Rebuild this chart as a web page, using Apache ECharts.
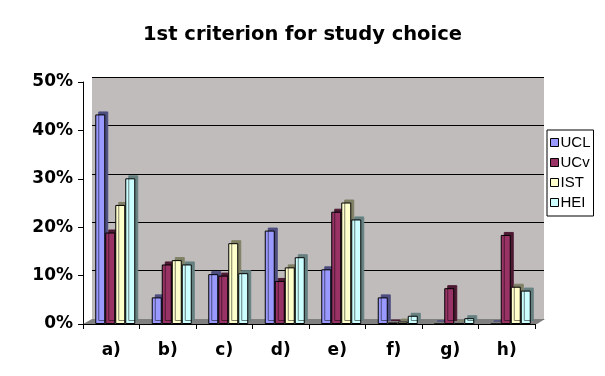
<!DOCTYPE html>
<html><head><meta charset="utf-8">
<script src="https://cdn.jsdelivr.net/npm/echarts@6/dist/echarts.min.js"></script>
<style>html,body{margin:0;padding:0;background:#fff}#c{width:605px;height:376px}</style>
</head><body><div id="c"></div>
<script>
var categories = ['a)', 'b)', 'c)', 'd)', 'e)', 'f)', 'g)', 'h)'];
var UCL = [43.3, 5.5, 10.3, 19.3, 11.3, 5.5, 0, 0];
var UCv = [18.9, 12.3, 10.0, 8.9, 23.2, 0.3, 7.4, 18.4];
var IST = [24.6, 13.2, 16.7, 11.7, 25.1, 0.5, 0.1, 7.7];
var HEI = [30.1, 12.3, 10.5, 13.8, 21.6, 1.7, 1.2, 6.9];
var yTicks = [0, 10, 20, 30, 40, 50];

var names = ['UCL', 'UCv', 'IST', 'HEI'];
var colors = ['#9999FF', '#993366', '#FFFFCC', '#CCFFFF'];
var sides = ['#4D4D80', '#4D1A33', '#808066', '#668080'];
var vals = [UCL, UCv, IST, HEI];

var chart = echarts.init(document.getElementById('c'), null, {renderer: 'canvas'});
var bold = 'DejaVu Sans, sans-serif';
var reg = 'Liberation Sans, Arial, sans-serif';
chart.setOption({
  backgroundColor: '#ffffff',
  animation: false,
  title: {
    text: '1st criterion for study choice', left: 'center', top: 20,
    textStyle: {fontFamily: bold, fontSize: 19.5, fontWeight: 'bold', color: '#000'}
  },
  legend: {
    orient: 'vertical', left: 547, top: 130,
    data: names,
    icon: 'rect', itemWidth: 8, itemHeight: 8, itemGap: 5,
    padding: [5, 3, 6, 3],
    borderColor: '#000', borderWidth: 1,
    textStyle: {fontFamily: reg, fontSize: 15, color: '#000', padding: [0, 0, 0, -3]},
    itemStyle: {borderColor: '#000', borderWidth: 1}
  },
  graphic: [{
    type: 'polygon', z: 1,
    shape: {points: [[92, 319], [545, 319], [537, 324], [83, 324]]},
    style: {fill: '#808080'}
  }],
  grid: [
    {left: 83, top: 82, width: 452, height: 242, containLabel: false},
    {left: 92, top: 77, width: 452, height: 242, show: true, backgroundColor: '#C0BCBC', borderWidth: 0, z: 0},
    {left: 87, top: 82, width: 452, height: 242, containLabel: false}
  ],
  xAxis: [
    {type: 'category', data: categories, gridIndex: 0,
     axisLine: {lineStyle: {color: '#000', width: 1}},
     axisTick: {show: true, length: 5, lineStyle: {color: '#000'}},
     axisLabel: {fontFamily: bold, fontSize: 17, fontWeight: 'bold', color: '#000', margin: 18}},
    {type: 'category', data: categories, gridIndex: 1, show: false},
    {type: 'category', data: categories, gridIndex: 2, show: false}
  ],
  yAxis: [
    {type: 'value', gridIndex: 0, min: 0, max: 50, interval: 10,
     axisLine: {show: true, lineStyle: {color: '#000', width: 1}},
     axisTick: {show: true, length: 5, lineStyle: {color: '#000'}},
     splitLine: {show: false},
     axisLabel: {formatter: '{value}%', fontFamily: bold, fontSize: 17, fontWeight: 'bold', color: '#000', margin: 10}},
    {type: 'value', gridIndex: 1, min: 0, max: 50, interval: 10,
     axisLine: {show: false}, axisTick: {show: false}, axisLabel: {show: false},
     splitLine: {show: true, lineStyle: {color: '#000', width: 1}}},
    {type: 'value', gridIndex: 2, min: 0, max: 50, interval: 10, show: false,
     splitLine: {show: false}}
  ],
  series: names.map(function (n, i) {
    return {
      name: n, type: 'bar', xAxisIndex: 2, yAxisIndex: 2,
      data: vals[i], barWidth: 10, barGap: '0%', z: 3,
      itemStyle: {color: colors[i], borderColor: '#000', borderWidth: 1,
        shadowColor: sides[i], shadowOffsetX: 3, shadowOffsetY: -3, shadowBlur: 0}
    };
  })
});
</script></body></html>
